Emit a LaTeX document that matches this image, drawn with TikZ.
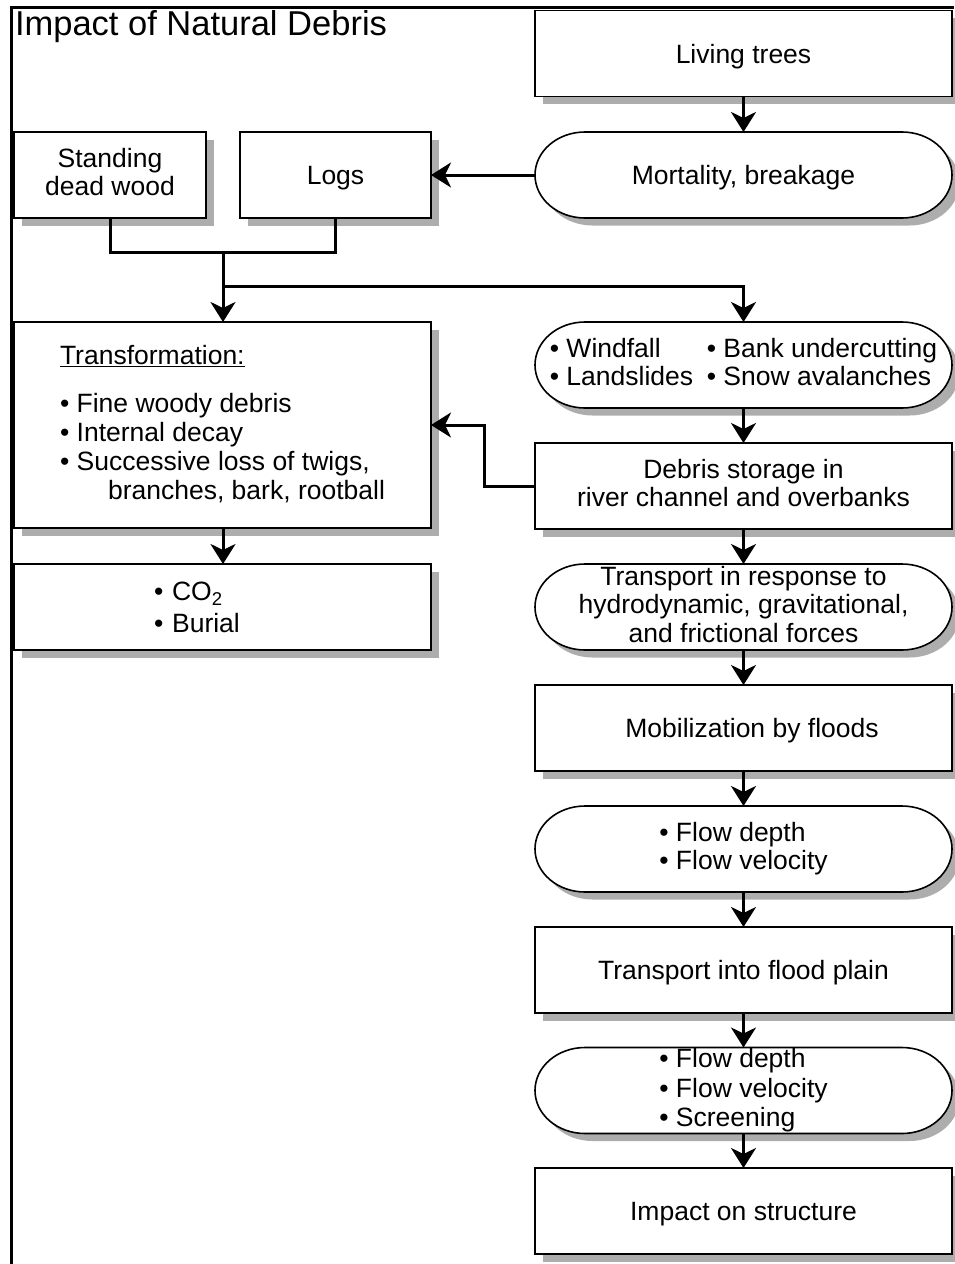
\documentclass[tikz,border=0pt]{standalone}
\usepackage{fontspec}
\setmainfont{Liberation Sans}
\usetikzlibrary{arrows.meta,shadows,backgrounds,calc}
\newcommand\stadiumdraw[1]{%
  \fill[shadowcol] ([xshift=-151pt,yshift=35.5pt]#1.center) -- ([xshift=166pt,yshift=35.5pt]#1.center)
    arc[start angle=90,end angle=-90,x radius=50pt,y radius=43pt] -- ([xshift=-151pt,yshift=-50.5pt]#1.center)
    arc[start angle=270,end angle=90,x radius=50pt,y radius=43pt] -- cycle;
  \draw[boxline,fill=white] ([xshift=-158.5pt,yshift=43pt]#1.center) -- ([xshift=158.5pt,yshift=43pt]#1.center)
    arc[start angle=90,end angle=-90,x radius=50pt,y radius=43pt] -- ([xshift=-158.5pt,yshift=-43pt]#1.center)
    arc[start angle=270,end angle=90,x radius=50pt,y radius=43pt] -- cycle;}
\colorlet{shadowcol}{black!32}
\begin{document}
\begin{tikzpicture}[x=1pt,y=-1pt,
  every node/.style={inner sep=0pt, outer sep=0pt},
  txt/.style={font=\fontsize{26.5}{28.5}\selectfont,
    execute at begin node={\rule{0pt}{25pt}},
    execute at end node={\rule[-6pt]{0pt}{6pt}}},
  boxline/.style={draw=black, line width=1.6pt},
  rectbox/.style={txt, boxline, fill=white, align=center, minimum width=417pt, minimum height=86pt,
    drop shadow={shadow xshift=7.5pt, shadow yshift=-7.5pt, fill=shadowcol, opacity=1}},
  stadbox/.style={txt, align=center, minimum width=417pt, minimum height=86pt},
  conn/.style={line width=3pt},
  arr/.style={conn, -{Stealth[length=20pt,width=25pt,inset=6pt]}},
  framestyle/.style={line width=3pt}
]
\useasboundingbox (0,0) rectangle (954,1264);
% frame
\draw[framestyle] (11,1264) -- (11,7) -- (954,7);
\node[anchor=base west, font=\fontsize{34.5}{40}\selectfont] (title) at (15,35) {Impact of Natural Debris};

% right column
\node[rectbox] (living) at (743.5,53.5) {Living trees};
\node[stadbox] (mort) at (743.5,175) {Mortality, breakage};
\node[stadbox, align=left] (wind) at (743.5,365)
  {\makebox[157pt][l]{• Windfall}• Bank undercutting\\\makebox[157pt][l]{• Landslides}• Snow avalanches};
\node[rectbox] (debris) at (743.5,486) {Debris storage in\\river channel and overbanks};
\node[stadbox, execute at begin node={\rule{0pt}{28pt}}] (transp) at (743.5,607)
  {Transport in response to\\hydrodynamic, gravitational,\\and frictional forces};
\node[rectbox] (mobil) at (743.5,728) {\hspace*{17pt}Mobilization by floods};
\node[stadbox, align=left] (flowa) at (743.5,849) {• Flow depth\\• Flow velocity};
\node[rectbox] (plain) at (743.5,970) {Transport into flood plain};
\node[stadbox, align=left, font=\fontsize{26.5}{29.5}\selectfont,
  execute at begin node={\rule{0pt}{34pt}}] (flowb) at (743.5,1090.5) {• Flow depth\\• Flow velocity\\• Screening};
\node[rectbox] (impact) at (743.5,1211) {Impact on structure};

% left column
\node[rectbox, minimum width=192pt] (stand) at (110,175) {Standing\\dead wood};
\node[rectbox, minimum width=191pt] (logs) at (335.5,175) {Logs};
\node[rectbox, minimum height=206pt, align=left, font=\fontsize{26.5}{29}\selectfont] (trans) at (222.5,425)
  {\underline{Transformation:}\\[19pt]• Fine woody debris\\• Internal decay\\• Successive loss of twigs,\\\hspace*{48pt}branches, bark, rootball};
\node[rectbox, align=left, text width=137pt, inner xsep=140pt] (co2) at (222.5,607)
  {• CO\textsubscript{2}\\[3pt]• Burial};

% stadium outline points
\foreach \s in {mort,wind,transp,flowa,flowb}{
  \coordinate (\s-n) at ([yshift=43pt]\s.center);
  \coordinate (\s-s) at ([yshift=-43pt]\s.center);
}

% connectors
\coordinate (j) at (223,252);
\coordinate (k) at (223,286);
\draw[arr] (living.south) -- (mort-n);
\draw[arr] (mort.west) -- (logs.east);
\draw[conn] (stand.south) |- (j) -| (logs.south);
\draw[arr] (j) -- (j |- trans.north);
\draw[arr] (k) -| (wind-n);
\draw[arr] (wind-s) -- (debris.north);
\draw[arr] (debris.west) -- ++(-51,0) |- (trans.east);
\draw[arr] (trans.south -| j) -- (co2.north -| j);
\draw[arr] (debris.south) -- (transp-n);
\draw[arr] (transp-s) -- (mobil.north);
\draw[arr] (mobil.south) -- (flowa-n);
\draw[arr] (flowa-s) -- (plain.north);
\draw[arr] (plain.south) -- (flowb-n);
\draw[arr] (flowb-s) -- (impact.north);

\begin{pgfonlayer}{background}
\stadiumdraw{mort}
\stadiumdraw{wind}
\stadiumdraw{transp}
\stadiumdraw{flowa}
\stadiumdraw{flowb}
\end{pgfonlayer}
\end{tikzpicture}
\end{document}
